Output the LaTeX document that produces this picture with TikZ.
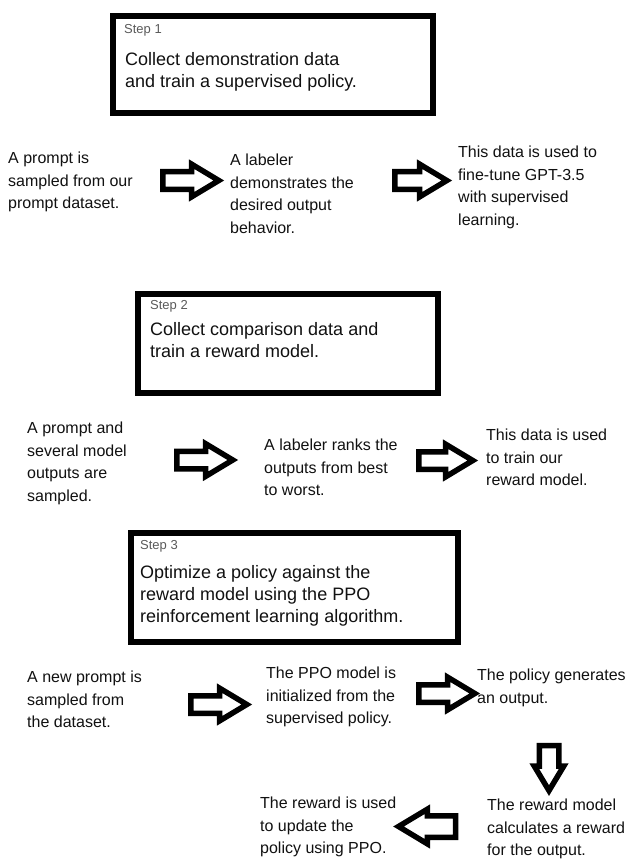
\documentclass[tikz,border=0pt]{standalone}
\usepackage{fontspec}
\setmainfont{Liberation Sans}
\usetikzlibrary{shapes.arrows}
\definecolor{steptxt}{HTML}{5A5A5A}
\definecolor{bodytxt}{HTML}{111111}
\begin{document}
\begin{tikzpicture}[x=1pt,y=-1pt,
  stepbox/.style={draw=black, line width=6pt, fill=white, anchor=north west, inner sep=0pt},
  steplabel/.style={anchor=north west, inner sep=0pt, text=steptxt, font=\fontsize{13}{15}\selectfont},
  heading/.style={anchor=north west, inner sep=0pt, align=left, text=bodytxt, font=\fontsize{18}{22}\selectfont},
  body/.style={anchor=north west, inner sep=0pt, align=left, text=bodytxt, font=\fontsize{16}{22.5}\selectfont},
  blockarrow/.style={single arrow, draw=black, fill=white, line width=5.5pt, inner sep=0pt,
    inner ysep=6pt, minimum height=56pt, minimum width=27pt,
    single arrow head extend=7.5pt, single arrow tip angle=62}
]
\useasboundingbox[fill=white] (0,0) rectangle (628,861);

% Step 1
\node[stepbox, minimum width=320pt, minimum height=97pt] (box1) at (110,13) {};
\node[steplabel] (s1) at (124,24) {Step 1};
\node[heading] (h1) at (125,52) {Collect demonstration data\\and train a supervised policy.};

\node[body] (n11) at (8,152) {A prompt is\\sampled from our\\prompt dataset.};
\node[blockarrow] (a1) at (183.5,180.5) {};
\node[body] (n12) at (230,154) {A labeler\\demonstrates the\\desired output\\behavior.};
\node[blockarrow, minimum height=52pt] (a2) at (413.5,180.5) {};
\node[body] (n13) at (458,146) {This data is used to\\fine-tune GPT-3.5\\with supervised\\learning.};

% Step 2
\node[stepbox, minimum width=300pt, minimum height=99pt] (box2) at (135,291) {};
\node[steplabel] (s2) at (150,300) {Step 2};
\node[heading] (h2) at (150,322) {Collect comparison data and\\train a reward model.};

\node[body] (n21) at (27,422) {A prompt and\\several model\\outputs are\\sampled.};
\node[blockarrow, minimum width=28pt] (a3) at (197.5,460) {};
\node[body] (n22) at (264,439) {A labeler ranks the\\outputs from best\\to worst.};
\node[blockarrow, minimum height=54pt] (a4) at (438.5,460.5) {};
\node[body] (n23) at (486,429) {This data is used\\to train our\\reward model.};

% Step 3
\node[stepbox, minimum width=327pt, minimum height=109pt] (box3) at (128,530) {};
\node[steplabel] (s3) at (140,540) {Step 3};
\node[heading] (h3) at (140,565) {Optimize a policy against the\\reward model using the PPO\\reinforcement learning algorithm.};

\node[body] (n31) at (27,671) {A new prompt is\\sampled from\\the dataset.};
\node[blockarrow] (a5) at (211.5,704.5) {};
\node[body] (n32) at (266,667) {The PPO model is\\initialized from the\\supervised policy.};
\node[body] (n33) at (477,669) {The policy generates\\an output.};
\node[blockarrow, minimum width=25pt] (a6) at (439.5,693.5) {};

\node[blockarrow, rotate=-90, minimum height=45pt, minimum width=24pt, inner ysep=7pt,
      single arrow head extend=5pt] (a7) at (549,760) {};
\node[body] (n34) at (487,799) {The reward model\\calculates a reward\\for the output.};
\node[blockarrow, rotate=180, minimum height=57pt, minimum width=29pt, inner ysep=8pt,
      single arrow head extend=6.5pt] (a8) at (436,826.5) {};
\node[body] (n35) at (260,797) {The reward is used\\to update the\\policy using PPO.};
\end{tikzpicture}
\end{document}
